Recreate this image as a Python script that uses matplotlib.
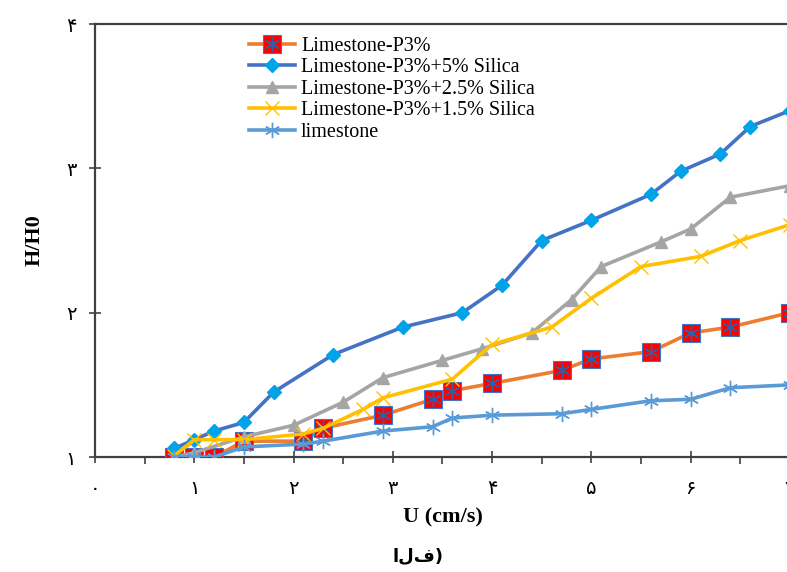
import matplotlib
matplotlib.use("Agg")
import matplotlib.pyplot as plt
from matplotlib.ticker import FixedLocator, MultipleLocator

# ---- data ----
x_p3 = [0.8, 1.0, 1.2, 1.5, 2.1, 2.3, 2.9, 3.4, 3.6, 4.0, 4.7, 5.0, 5.6, 6.0, 6.4, 7.0]
y_p3 = [1.00, 1.00, 1.00, 1.11, 1.11, 1.20, 1.29, 1.40, 1.46, 1.51, 1.60, 1.68, 1.73, 1.86, 1.90, 2.00]

x_s5 = [0.8, 1.0, 1.2, 1.5, 1.8, 2.4, 3.1, 3.7, 4.1, 4.5, 5.0, 5.6, 5.9, 6.3, 6.6, 7.0]
y_s5 = [1.06, 1.12, 1.18, 1.24, 1.45, 1.71, 1.90, 2.00, 2.19, 2.50, 2.64, 2.82, 2.98, 3.10, 3.29, 3.40]

x_s25 = [0.8, 1.0, 1.5, 2.0, 2.5, 2.9, 3.5, 3.9, 4.4, 4.8, 5.1, 5.7, 6.0, 6.4, 7.0]
y_s25 = [1.00, 1.03, 1.14, 1.22, 1.38, 1.55, 1.67, 1.75, 1.86, 2.09, 2.32, 2.49, 2.58, 2.80, 2.88]

x_s15 = [0.8, 1.0, 1.2, 1.5, 2.1, 2.3, 2.7, 2.9, 3.6, 4.0, 4.6, 5.0, 5.5, 6.1, 6.5, 7.0]
y_s15 = [1.01, 1.12, 1.12, 1.12, 1.16, 1.20, 1.33, 1.41, 1.54, 1.78, 1.90, 2.10, 2.32, 2.39, 2.50, 2.61]

x_ls = [0.8, 1.0, 1.2, 1.5, 2.1, 2.3, 2.9, 3.4, 3.6, 4.0, 4.7, 5.0, 5.6, 6.0, 6.4, 7.0]
y_ls = [1.00, 1.00, 1.00, 1.07, 1.09, 1.11, 1.18, 1.21, 1.27, 1.29, 1.30, 1.33, 1.39, 1.40, 1.48, 1.50]

labels = ["Limestone-P3%", "Limestone-P3%+5% Silica", "Limestone-P3%+2.5% Silica",
          "Limestone-P3%+1.5% Silica", "limestone"]
x_ticklabels = ["۰", "۱", "۲", "۳", "۴", "۵", "۶", "۷"]
y_ticklabels = ["۱", "۲", "۳", "۴"]

# ---- figure ----
fig = plt.figure(figsize=(7.87, 5.72), dpi=100)
ax = fig.add_axes([0.1207, 0.201, 0.883, 0.757])

lw = 2.6
h_p3_line, = ax.plot(x_p3, y_p3, color="#ED7D31", lw=lw, marker="s", ms=13,
                     mfc="#FF0000", mec="#4472C4", mew=0.8, zorder=3)
h_p3_star, = ax.plot(x_p3, y_p3, ls="none", marker=(6, 2, 0), ms=11,
                     mec="#2E5FA8", mew=1.0, zorder=3.1)
h_s5, = ax.plot(x_s5, y_s5, color="#4472C4", lw=lw, marker="D", ms=7,
                mfc="#00A2E8", mec="#00A2E8", zorder=4)
h_s25, = ax.plot(x_s25, y_s25, color="#A5A5A5", lw=lw, marker="^", ms=9,
                 mfc="#A5A5A5", mec="#A5A5A5", zorder=4)
h_s15, = ax.plot(x_s15, y_s15, color="#FFC000", lw=lw, marker="x", ms=10,
                 mec="#FFC000", mew=1.0, zorder=5)
h_ls, = ax.plot(x_ls, y_ls, color="#5B9BD5", lw=lw, marker=(6, 2, 0), ms=11,
                mec="#5B9BD5", mew=1.0, zorder=6)

ax.set_xlim(0, 7)
ax.set_ylim(1, 4)

ax.xaxis.set_major_locator(FixedLocator(range(8)))
ax.xaxis.set_minor_locator(MultipleLocator(0.5))
ax.yaxis.set_major_locator(FixedLocator([1, 2, 3, 4]))
ax.set_xticklabels(x_ticklabels, family=["DejaVu Sans"], fontsize=14)
ax.set_yticklabels(y_ticklabels, family=["DejaVu Sans"], fontsize=14)

spc = "#404040"
for s in ["left", "bottom", "top"]:
    ax.spines[s].set_color(spc)
    ax.spines[s].set_linewidth(1.6)
ax.spines["right"].set_visible(False)

ax.tick_params(axis="both", which="major", direction="inout", length=9, width=1.2,
               color=spc, pad=11)
ax.tick_params(axis="x", which="minor", direction="out", length=5, width=1.2, color=spc)
ax.tick_params(axis="y", which="major", pad=9)

ax.set_xlabel("U (cm/s)", family=["Liberation Serif"], fontweight="bold", fontsize=16, labelpad=7)
ax.set_ylabel("H/H0", family=["Liberation Serif"], fontweight="bold", fontsize=16, labelpad=15)

leg = ax.legend([(h_p3_line, h_p3_star), h_s5, h_s25, h_s15, h_ls], labels,
                loc="upper left", bbox_to_anchor=(0.316, 0.936), bbox_transform=fig.transFigure,
                frameon=False, prop={"family": "Liberation Serif", "size": 14.5},
                handlelength=2.3, handletextpad=0.3, labelspacing=0.12, borderpad=0,
                borderaxespad=0)

fig.text(0.531, 0.012, "الف)", family=["DejaVu Sans"], fontweight="bold", fontsize=13,
         ha="center", va="bottom")

fig.savefig("out.png", dpi=100)
